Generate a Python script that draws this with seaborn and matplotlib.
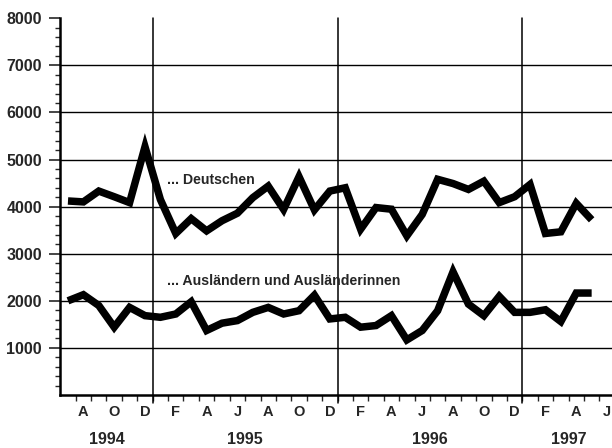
import numpy as np
import pandas as pd
import matplotlib
matplotlib.use("Agg")
import matplotlib.pyplot as plt
import matplotlib.transforms as mtransforms
import seaborn as sns

# Monthly values, July 1994 .. May 1997
deutschen = [4120, 4100, 4330, 4210, 4085, 5270, 4150, 3430, 3745, 3485, 3700, 3860,
             4190, 4435, 3940, 4635, 3930, 4330, 4400, 3520, 3980, 3945, 3380, 3835,
             4580, 4490, 4365, 4540, 4085, 4210, 4470, 3430, 3465, 4070, 3720]
auslaender = [2000, 2130, 1900, 1440, 1860, 1685, 1650, 1720, 1980, 1370, 1525, 1580,
              1755, 1860, 1720, 1790, 2120, 1615, 1650, 1440, 1475, 1685, 1170, 1370,
              1790, 2615, 1930, 1685, 2095, 1755, 1755, 1810, 1560, 2165, 2165]
series_names = ["... Deutschen", "... Ausländern und Ausländerinnen"]
month_labels = ["A", "O", "D", "F", "A", "J", "A", "O", "D",
                "F", "A", "J", "A", "O", "D", "F", "A", "J"]
year_labels = ["1994", "1995", "1996", "1997"]
year_centers = [3, 12, 24, 33]       # centre of the visible part of each year (months from Jul 1994)
year_breaks = [6, 18, 30]            # January boundaries
y_major = [1000, 2000, 3000, 4000, 5000, 6000, 7000, 8000]

n = len(deutschen)
df = pd.DataFrame({
    "month": np.concatenate([np.arange(n) + 0.5, np.arange(n) + 0.5]),
    "value": deutschen + auslaender,
    "series": [series_names[0]] * n + [series_names[1]] * n,
})

sns.set_style("white")
FONT = ["Liberation Sans", "DejaVu Sans"]
plt.rcParams["font.family"] = FONT
plt.rcParams["font.weight"] = "bold"

fig = plt.figure(figsize=(6.12, 4.48), dpi=100)
ax = fig.add_axes([0.0985, 0.1183, 0.906, 0.841])

# grid lines
for v in y_major[:-1]:
    ax.axhline(v, color="black", lw=1.0, zorder=1)
for b in year_breaks:
    ax.plot([b, b], [-160, 8000], color="black", lw=1.1, zorder=1, clip_on=False)

sns.lineplot(data=df, x="month", y="value", hue="series",
             palette=["black", "black"], lw=5.4, legend=False, ax=ax,
             zorder=3)
for line in ax.get_lines()[-2:]:
    line.set_solid_joinstyle("miter")
    line.set_solid_capstyle("butt")

ax.set_xlim(0, 36)
ax.set_ylim(0, 8000)
ax.set_xlabel("")
ax.set_ylabel("")

for s in ["top", "right"]:
    ax.spines[s].set_visible(False)
for s in ["left", "bottom"]:
    ax.spines[s].set_linewidth(1.8)
    ax.spines[s].set_color("black")

ax.set_yticks(y_major)
ax.set_yticklabels([str(v) for v in y_major], fontsize=11.5, fontweight="bold", family=FONT)
ax.set_yticks(np.arange(200, 8000, 200), minor=True)
ax.tick_params(axis="y", which="major", length=8.2, width=1.2, pad=5, direction="out", left=True)
ax.tick_params(axis="y", which="minor", length=3.5, width=1.0, direction="out", left=True)

ax.set_xticks(np.arange(1.5, 36, 2))
ax.set_xticklabels(month_labels, fontsize=10.5, fontweight="bold", family=FONT)
ax.set_xticks(np.arange(1, 36, 1), minor=True)
ax.tick_params(axis="x", which="major", length=0, pad=7.5)
ax.tick_params(axis="x", which="minor", length=4, width=1.0, direction="out", bottom=True)

trans = mtransforms.blended_transform_factory(ax.transData, ax.transAxes)
for yc, lab in zip(year_centers, year_labels):
    ax.text(yc, -0.119, lab, transform=trans, ha="center", va="center",
            fontsize=11.5, fontweight="bold", family=FONT)

ax.text(6.9, 4472, series_names[0], ha="left", va="baseline",
        fontsize=10.2, fontweight="bold", family=FONT)
ax.text(6.9, 2340, series_names[1], ha="left", va="baseline",
        fontsize=10.2, fontweight="bold", family=FONT)

fig.savefig("out.png", dpi=100)
